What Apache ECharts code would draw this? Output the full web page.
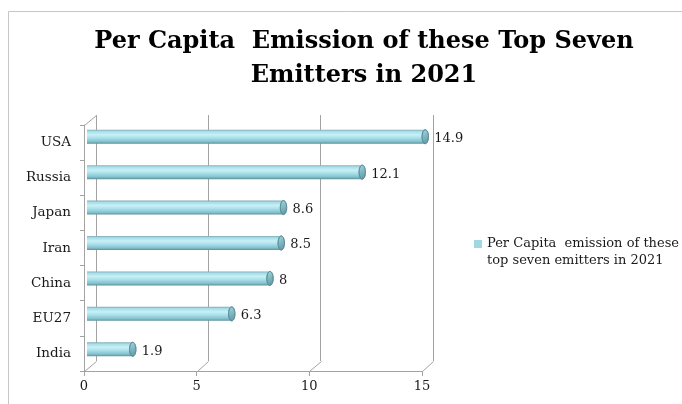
<!DOCTYPE html>
<html>
<head>
<meta charset="utf-8">
<script src="https://cdn.jsdelivr.net/npm/echarts@6/dist/echarts.min.js"></script>
<style>
  html, body { margin: 0; padding: 0; background: #fff; }
  #chart { width: 682px; height: 404px; }
</style>
</head>
<body>
<div id="chart"></div>
<script>
// Per capita emissions, 2021 (top to bottom as listed)
const categories = ['USA', 'Russia', 'Japan', 'Iran', 'China', 'EU27', 'India'];
const perCapita = [14.9, 12.1, 8.6, 8.5, 8, 6.3, 1.9];
const xTicks = [0, 5, 10, 15];
const seriesName = 'Per Capita  emission of these top seven emitters in 2021';
const titleLines = ['Per Capita  Emission of these Top Seven', 'Emitters in 2021'];

const SERIF = '"DejaVu Serif", "Liberation Serif", serif';
const FRAME = '#a3a3a3';

// legend swatch sits level with the first line of the two-line legend text
const LEGEND_ICON = 'path://M0,0L8,0L8,8L0,8Z M0,25L0.01,25L0.01,25.01Z';

const chart = echarts.init(document.getElementById('chart'), null, { renderer: 'canvas' });

// cylinder-like bar body with a shaded end cap
function renderBar(params, api) {
  const cat = api.value(1);
  const start = api.coord([0, cat]);
  const end = api.coord([api.value(0), cat]);
  const h = 14;
  const yc = start[1];
  const bodyFill = new echarts.graphic.LinearGradient(0, 0, 0, 1, [
    { offset: 0, color: '#7eaab2' },
    { offset: 0.12, color: '#a6dde8' },
    { offset: 0.36, color: '#c9f0f6' },
    { offset: 0.58, color: '#a9e0ea' },
    { offset: 0.85, color: '#82c1cd' },
    { offset: 1, color: '#5e8f98' }
  ]);
  return {
    type: 'group',
    children: [
      {
        type: 'rect',
        shape: { x: start[0] - 3, y: yc - h / 2, width: end[0] - start[0] + 3, height: h },
        style: { fill: bodyFill }
      },
      {
        type: 'ellipse',
        shape: { cx: end[0], cy: yc, rx: 3.2, ry: h / 2 },
        style: {
          fill: new echarts.graphic.LinearGradient(0, 0, 1, 1, [
            { offset: 0, color: '#a2d8e2' },
            { offset: 1, color: '#5a939f' }
          ]),
          stroke: '#588a94',
          lineWidth: 0.8
        }
      },
      {
        type: 'text',
        x: end[0] + 9,
        y: yc + 2,
        style: {
          text: String(api.value(0)),
          font: '13px ' + SERIF,
          fill: '#1a1a1a',
          verticalAlign: 'middle',
          align: 'left'
        }
      }
    ]
  };
}

const option = {
  backgroundColor: '#ffffff',
  animation: false,
  title: {
    text: titleLines.join('\n'),
    left: 364,
    top: 25,
    textAlign: 'center',
    padding: 0,
    textStyle: {
      fontFamily: SERIF,
      fontWeight: 'bold',
      fontSize: 24,
      lineHeight: 34,
      color: '#000'
    }
  },
  legend: {
    left: 474,
    top: 235.5,
    padding: 0,
    orient: 'vertical',
    itemWidth: 8,
    itemHeight: 25,
    data: [{ name: seriesName, icon: LEGEND_ICON }],
    formatter: () => 'Per Capita  emission of these\ntop seven emitters in 2021',
    textStyle: {
      fontFamily: SERIF,
      fontSize: 13,
      lineHeight: 17,
      color: '#1a1a1a'
    }
  },
  grid: [
    // back wall
    { left: 96, right: 249, top: 115, bottom: 43 },
    // front edges / labels
    { left: 84, right: 260, top: 125, bottom: 33 },
    // bars (mid depth)
    { left: 90, right: 254.5, top: 119, bottom: 37 }
  ],
  xAxis: [
    {
      gridIndex: 0, type: 'value', min: 0, max: 15, interval: 5,
      axisLine: { show: false }, axisTick: { show: false }, axisLabel: { show: false },
      splitLine: { show: true, lineStyle: { color: FRAME, width: 1 } }
    },
    {
      gridIndex: 1, type: 'value', min: 0, max: 15, interval: 5,
      axisLine: { show: true, lineStyle: { color: FRAME, width: 1 } },
      axisTick: { show: true, length: 5, lineStyle: { color: FRAME } },
      axisLabel: {
        margin: 9, fontFamily: SERIF, fontSize: 13, color: '#1a1a1a',
        formatter: v => (xTicks.includes(v) ? String(v) : '')
      },
      splitLine: { show: false }
    },
    {
      gridIndex: 2, type: 'value', min: 0, max: 15, interval: 5, show: false
    }
  ],
  yAxis: [
    {
      gridIndex: 0, type: 'category', data: categories, inverse: true, show: false
    },
    {
      gridIndex: 1, type: 'category', data: categories, inverse: true,
      axisLine: { show: true, lineStyle: { color: FRAME, width: 1 } },
      axisTick: { show: true, length: 4, lineStyle: { color: FRAME } },
      axisLabel: { margin: 13, fontFamily: SERIF, fontSize: 13.5, color: '#1a1a1a' },
      splitLine: { show: false }
    },
    {
      gridIndex: 2, type: 'category', data: categories, inverse: true, show: false
    }
  ],
  series: [
    {
      name: seriesName,
      type: 'custom',
      xAxisIndex: 2,
      yAxisIndex: 2,
      itemStyle: { color: '#9fd8e3' },
      renderItem: renderBar,
      encode: { x: 0, y: 1 },
      data: perCapita.map((v, i) => [v, i])
    }
  ]
};

chart.setOption(option);

// depth edges joining the front frame to the back wall
function drawDepthEdges() {
  const fr = chart.getModel().getComponent('grid', 1).coordinateSystem.getRect();
  const br = chart.getModel().getComponent('grid', 0).coordinateSystem.getRect();
  const lines = xTicks.map(t => {
    const f = chart.convertToPixel({ gridIndex: 1 }, [t, 0]);
    const b = chart.convertToPixel({ gridIndex: 0 }, [t, 0]);
    return { x1: f[0], y1: fr.y + fr.height, x2: b[0], y2: br.y + br.height };
  });
  lines.push({ x1: fr.x, y1: fr.y, x2: br.x, y2: br.y });

  const elements = lines.map(l => ({
    type: 'line',
    silent: true,
    shape: { x1: Math.round(l.x1) + 0.5, y1: Math.round(l.y1) + 0.5, x2: Math.round(l.x2) + 0.5, y2: Math.round(l.y2) + 0.5 },
    style: { stroke: FRAME, lineWidth: 1 }
  }));
  // chart area border
  elements.push({
    type: 'rect',
    silent: true,
    shape: { x: 8.5, y: 11.5, width: 700, height: 420 },
    style: { fill: null, stroke: '#c6c6c6', lineWidth: 1 }
  });
  chart.setOption({ graphic: elements });
}
drawDepthEdges();
</script>
</body>
</html>
